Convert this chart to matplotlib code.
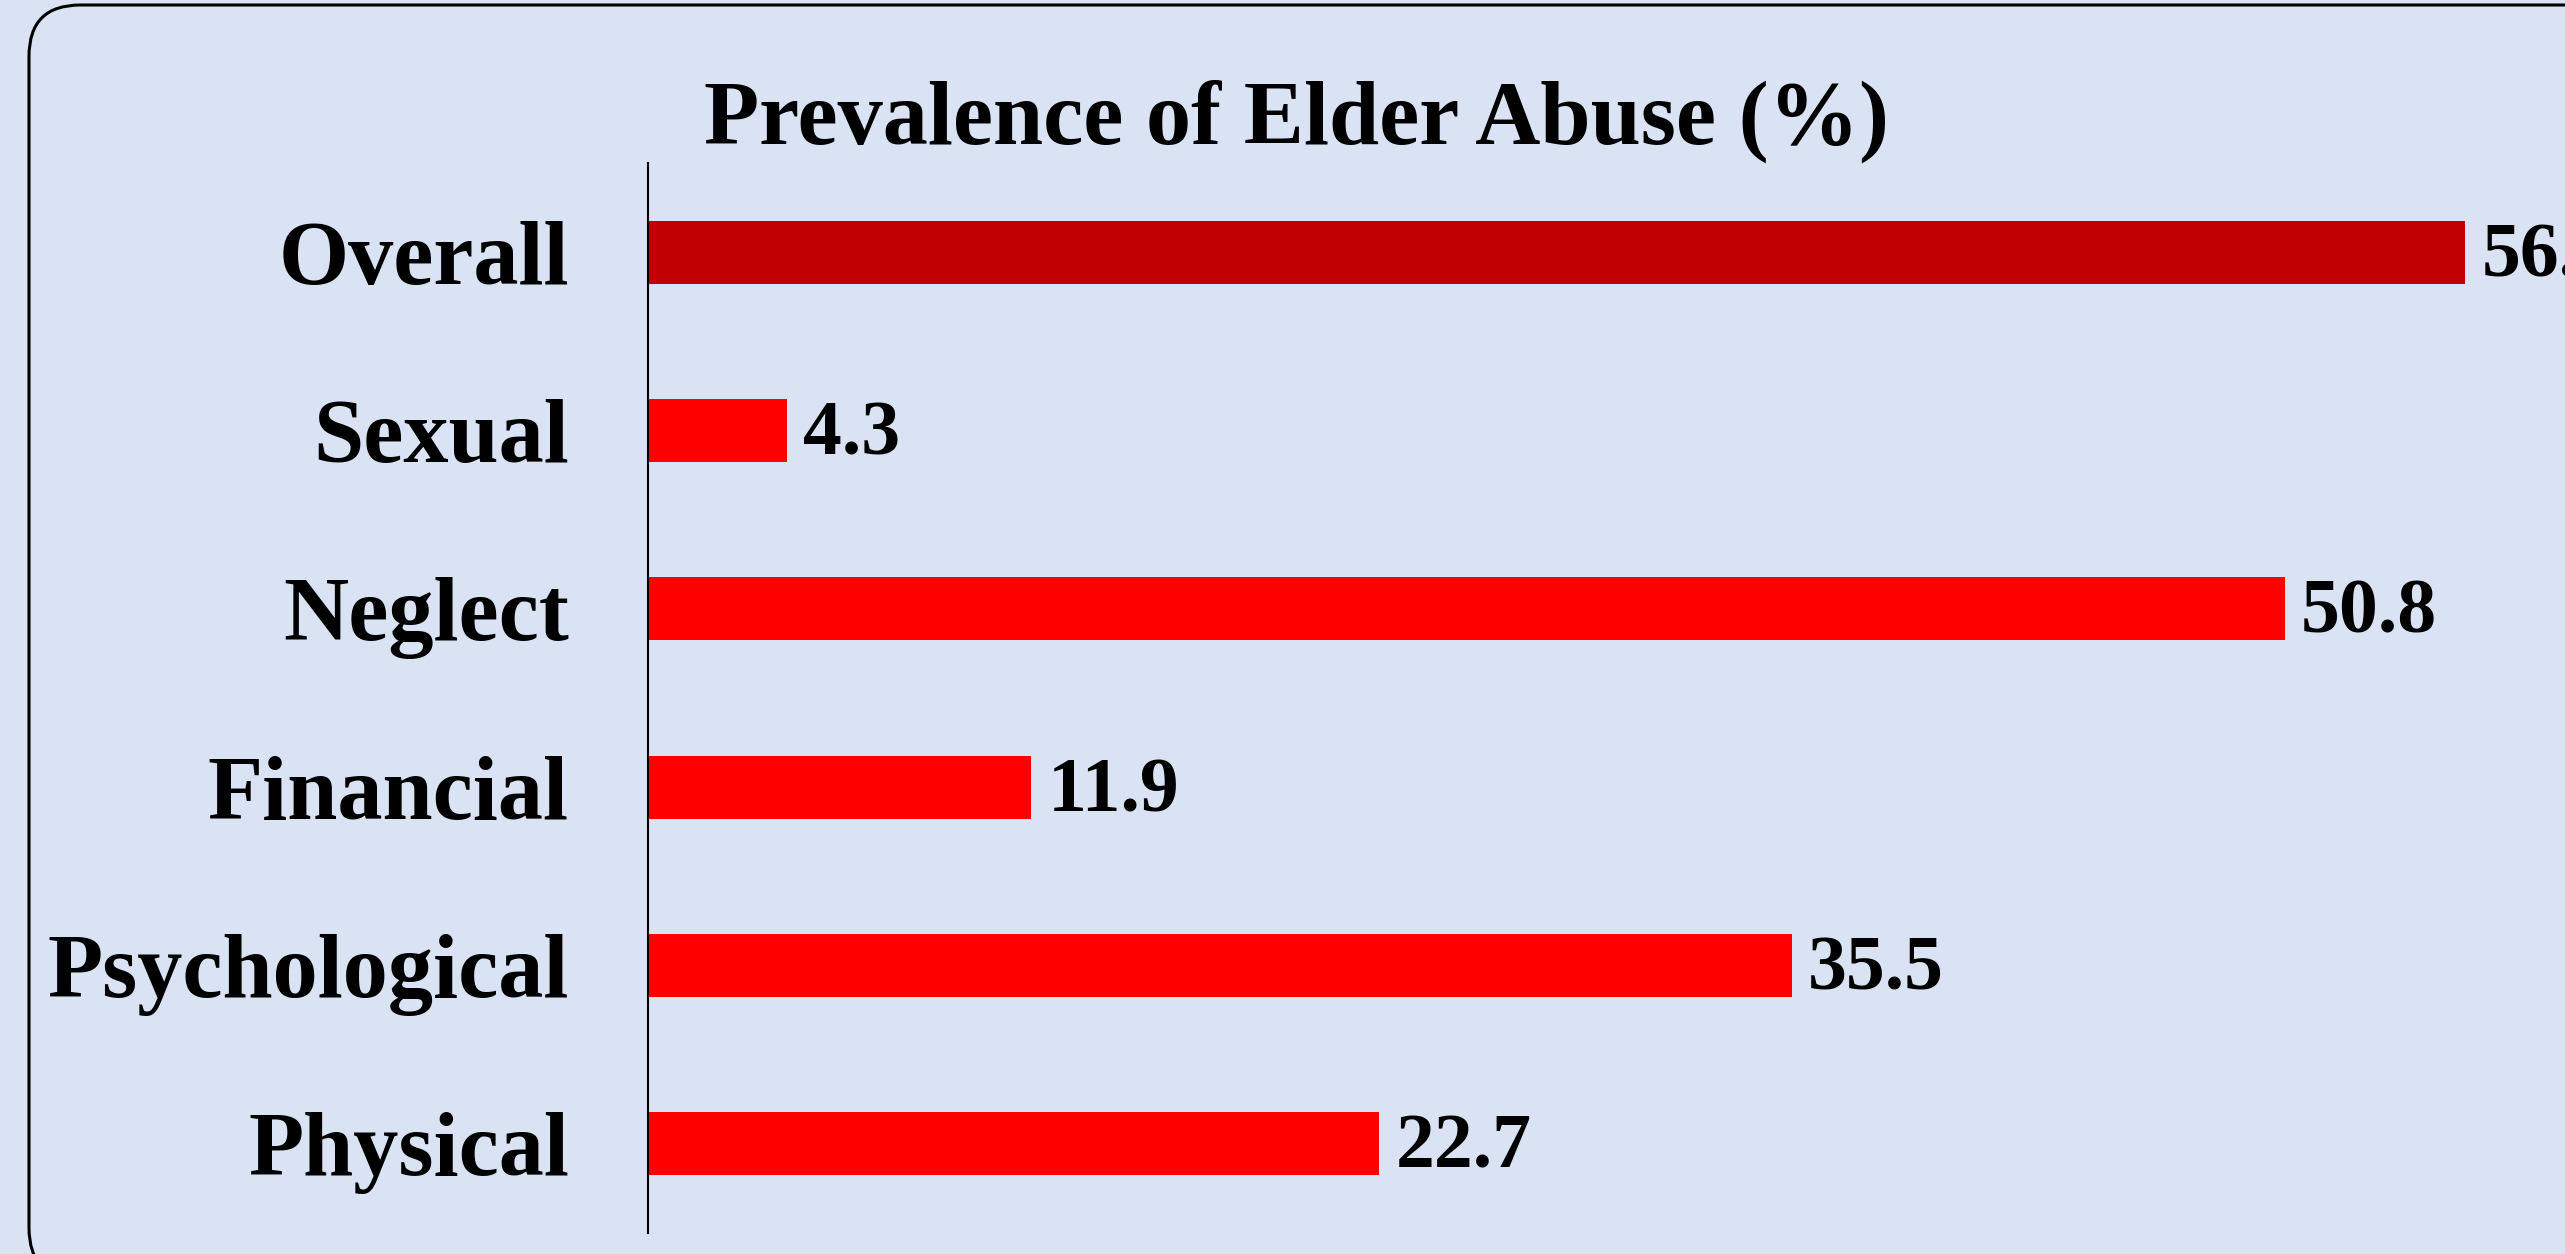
import matplotlib.pyplot as plt
from matplotlib.patches import FancyBboxPatch

categories = ['Physical', 'Psychological', 'Financial', 'Neglect', 'Sexual', 'Overall']
values = [22.7, 35.5, 11.9, 50.8, 4.3, 56.4]
bar_colors = ['#FF0000', '#FF0000', '#FF0000', '#FF0000', '#FF0000', '#C00000']

W, H = 2565, 1254
bg = '#DAE3F3'

plt.rcParams['font.family'] = ['Liberation Serif', 'DejaVu Serif']

fig = plt.figure(figsize=(W / 100, H / 100), dpi=100)
fig.patch.set_facecolor(bg)

# rounded frame around the chart (runs past the right and bottom edges)
frame = FancyBboxPatch((29 / W, -0.02), 1.2, (H - 5) / H + 0.02, transform=fig.transFigure,
                       boxstyle='round,pad=0,rounding_size=0.02', mutation_aspect=W / H,
                       facecolor='none', edgecolor='black', linewidth=2.2)
fig.patches.append(frame)

ax = fig.add_axes([648 / W, (H - 1233) / H, (W - 648) / W, (1233 - 163) / H])
ax.set_facecolor(bg)

ypos = range(len(categories))
ax.barh(ypos, values, height=0.355, color=bar_colors)
for y, v in zip(ypos, values):
    ax.text(v + 0.5, y - 0.03, f'{v}', va='center', ha='left', fontsize=56, fontweight='bold', clip_on=False)

ax.set_xlim(0, 59.5)
ax.set_ylim(-0.5, 5.5)
ax.set_yticks(list(ypos))
ax.set_yticklabels(categories, fontsize=65, fontweight='bold')
ax.tick_params(axis='y', length=0, pad=57)
ax.set_xticks([])
for s in ['top', 'right', 'bottom']:
    ax.spines[s].set_visible(False)
ax.spines['left'].set_linewidth(1.5)

fig.text(1296 / W, 1 - 121 / H, 'Prevalence of Elder Abuse (%)', ha='center', va='center',
         fontsize=65, fontweight='bold')

fig.savefig('out.png', dpi=100, facecolor=bg)
